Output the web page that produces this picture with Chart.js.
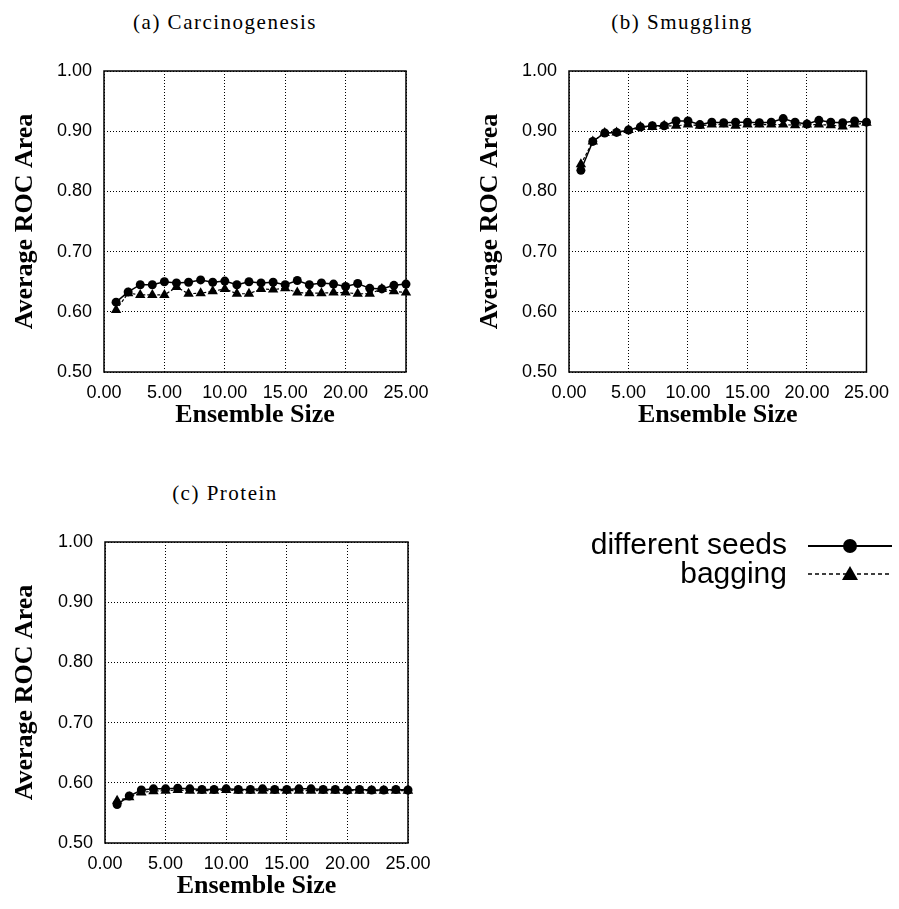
<!DOCTYPE html>
<html>
<head>
<meta charset="utf-8">
<script src="https://cdn.jsdelivr.net/npm/chart.js@4.4.1/dist/chart.umd.min.js"></script>
<style>
  body { margin: 0; background: #fff; width: 899px; height: 909px; overflow: hidden; position: relative; }
  canvas { position: absolute; }
  .ptitle { position: absolute; font-family: 'Liberation Serif', serif; font-size: 21px; letter-spacing: 1.5px; text-align: center; line-height: 24px; }
  #legend { position: absolute; left: 0; top: 0; }
</style>
</head>
<body>
<div class="ptitle" style="left:0;width:450px;top:10px">(a) Carcinogenesis</div>
<div class="ptitle" style="left:465px;width:434px;top:10px">(b) Smuggling</div>
<div class="ptitle" style="left:0;width:450px;top:481px">(c) Protein</div>

<canvas id="chartA" width="450" height="440" style="left:0;top:0"></canvas>
<canvas id="chartB" width="434" height="440" style="left:465px;top:0"></canvas>
<canvas id="chartC" width="450" height="440" style="left:0;top:471px"></canvas>

<svg id="legend" width="899" height="909">
  <text x="787" y="554" text-anchor="end" font-family="Liberation Sans" font-size="30">different seeds</text>
  <line x1="808" y1="546" x2="892" y2="546" stroke="#000" stroke-width="2"/>
  <circle cx="850" cy="546" r="7" fill="#000"/>
  <text x="787" y="583" text-anchor="end" font-family="Liberation Sans" font-size="30">bagging</text>
  <line x1="808" y1="574" x2="892" y2="574" stroke="#000" stroke-width="1.5" stroke-dasharray="4,3"/>
  <polygon points="842,580 858,580 850,566" fill="#000"/>
</svg>

<script>
// ensemble sizes (x)
var sizes = [1, 2, 3, 4, 5, 6, 7, 8, 9, 10, 11, 12, 13, 14, 15, 16, 17, 18, 19, 20, 21, 22, 23, 24, 25]

// (a) Carcinogenesis
var carcSeeds   = [0.616, 0.633, 0.645, 0.645, 0.650, 0.648, 0.649, 0.653, 0.649, 0.651, 0.645, 0.650, 0.648, 0.649, 0.645, 0.652, 0.645, 0.648, 0.646, 0.642, 0.647, 0.639, 0.638, 0.644, 0.646]
var carcBagging = [0.603, 0.631, 0.628, 0.628, 0.628, 0.641, 0.630, 0.631, 0.634, 0.638, 0.630, 0.630, 0.638, 0.637, 0.639, 0.632, 0.631, 0.631, 0.632, 0.632, 0.630, 0.630, 0.638, 0.634, 0.632]

// (b) Smuggling
var smugSeeds   = [0.835, 0.883, 0.897, 0.898, 0.902, 0.907, 0.909, 0.909, 0.917, 0.917, 0.911, 0.915, 0.914, 0.915, 0.915, 0.914, 0.915, 0.921, 0.915, 0.912, 0.918, 0.915, 0.914, 0.917, 0.915]
var smugBagging = [0.845, 0.883, 0.897, 0.898, 0.902, 0.907, 0.907, 0.909, 0.909, 0.911, 0.909, 0.911, 0.911, 0.909, 0.911, 0.911, 0.911, 0.911, 0.910, 0.911, 0.911, 0.910, 0.908, 0.911, 0.914]

// (c) Protein
var protSeeds   = [0.564, 0.578, 0.588, 0.590, 0.590, 0.591, 0.590, 0.589, 0.589, 0.590, 0.589, 0.589, 0.590, 0.589, 0.589, 0.590, 0.590, 0.589, 0.589, 0.588, 0.589, 0.588, 0.588, 0.589, 0.588]
var protBagging = [0.570, 0.576, 0.584, 0.586, 0.587, 0.588, 0.587, 0.587, 0.587, 0.588, 0.587, 0.587, 0.587, 0.587, 0.587, 0.587, 0.587, 0.587, 0.587, 0.587, 0.587, 0.587, 0.587, 0.587, 0.587]

var xLabel = 'Ensemble Size'
var yLabel = 'Average ROC Area'

// box round the plot area
var frame = {
  id: 'frame',
  beforeDatasetsDraw: function (chart) {
    var a = chart.chartArea, ctx = chart.ctx
    ctx.save()
    ctx.strokeStyle = '#000'
    ctx.lineWidth = 1.5
    ctx.strokeRect(a.left, a.top, a.right - a.left, a.bottom - a.top)
    ctx.restore()
  }
}

function pts(ys) {
  return sizes.map(function (x, i) { return { x: x, y: ys[i] } })
}

function makeChart(id, seeds, bagging, yWidth, padRight) {
  var ctx = document.getElementById(id).getContext('2d')
  return new Chart(ctx, {
    type: 'line',
    data: {
      datasets: [
        {
          label: 'bagging',
          data: pts(bagging),
          borderColor: '#000',
          backgroundColor: '#000',
          borderWidth: 1.2,
          borderDash: [3, 2],
          pointStyle: 'triangle',
          pointRadius: 6,
          pointBorderWidth: 0,
          clip: false
        },
        {
          label: 'different seeds',
          data: pts(seeds),
          borderColor: '#000',
          backgroundColor: '#000',
          borderWidth: 1.5,
          pointStyle: 'circle',
          pointRadius: 4.5,
          pointBorderWidth: 0,
          clip: false
        }
      ]
    },
    options: {
      responsive: false,
      animation: false,
      layout: { padding: { top: 71, right: padRight, left: 0, bottom: 0 } },
      plugins: { legend: { display: false }, tooltip: { enabled: false } },
      scales: {
        x: {
          type: 'linear',
          min: 0,
          max: 25,
          afterFit: function (s) { s.height = 68 },
          ticks: {
            stepSize: 5,
            maxRotation: 0,
            padding: 10,
            color: '#000',
            font: { family: 'Liberation Sans', size: 18 },
            callback: function (v) { return v.toFixed(2) }
          },
          grid: { color: '#000', lineWidth: 1, drawTicks: false },
          border: { display: false, dash: [1, 2] },
          title: {
            display: true,
            text: xLabel,
            color: '#000',
            font: { family: 'Liberation Serif', size: 26, weight: 'bold' },
            padding: { top: 0, bottom: 9 }
          }
        },
        y: {
          min: 0.5,
          max: 1.0,
          afterFit: function (s) { s.width = yWidth },
          ticks: {
            stepSize: 0.1,
            padding: 12,
            color: '#000',
            font: { family: 'Liberation Sans', size: 18 },
            callback: function (v) { return v.toFixed(2) }
          },
          grid: { color: '#000', lineWidth: 1, drawTicks: false },
          border: { display: false, dash: [1, 2] },
          title: {
            display: true,
            text: yLabel,
            color: '#000',
            font: { family: 'Liberation Serif', size: 26, weight: 'bold' },
            padding: { top: 10, bottom: 0 }
          }
        }
      }
    },
    plugins: [frame]
  })
}

makeChart('chartA', carcSeeds, carcBagging, 104, 44)
makeChart('chartB', smugSeeds, smugBagging, 104, 27)
makeChart('chartC', protSeeds, protBagging, 105, 42)
</script>
</body>
</html>
